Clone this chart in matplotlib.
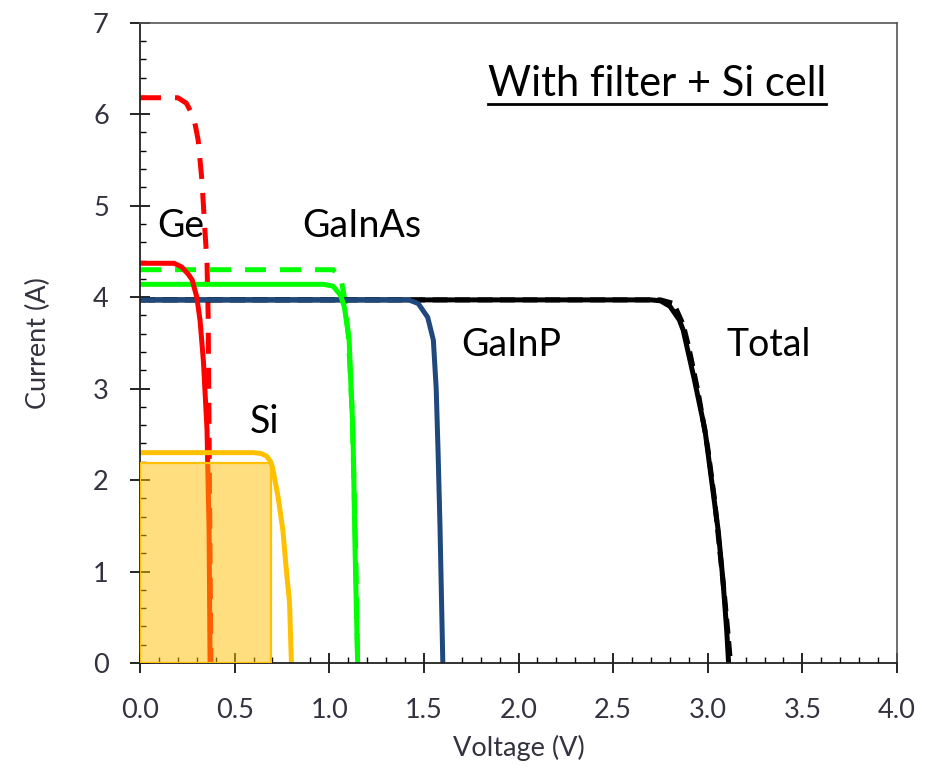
import matplotlib
matplotlib.use("Agg")
import matplotlib.pyplot as plt
from matplotlib.lines import Line2D
from matplotlib.patches import Rectangle
from matplotlib.ticker import MultipleLocator, FormatStrFormatter

plt.rcParams['font.family'] = ['Lato', 'DejaVu Sans']

# I-V curves (V in volts, I in amps)
total_v = [0, 2.70, 2.75, 2.80, 2.85, 2.87, 2.93, 2.985, 3.02, 3.055, 3.08, 3.10, 3.11]
total_i = [3.97, 3.97, 3.96, 3.90, 3.75, 3.64, 3.09, 2.55, 2.00, 1.45, 0.91, 0.36, 0.0]
total_meas_v = [0, 2.75, 2.82, 2.87, 2.90, 2.95, 3.00, 3.035, 3.065, 3.09, 3.11, 3.12]
total_meas_i = [3.97, 3.97, 3.93, 3.70, 3.45, 2.95, 2.35, 1.80, 1.20, 0.70, 0.25, 0.0]

gainp_v = [0, 1.42, 1.47, 1.52, 1.55, 1.565, 1.575, 1.585, 1.595, 1.60]
gainp_i = [3.97, 3.97, 3.93, 3.78, 3.53, 3.0, 2.3, 1.5, 0.5, 0.0]

gainas_v = [0, 0.97, 1.02, 1.06, 1.08, 1.105, 1.115, 1.125, 1.136, 1.143, 1.15]
gainas_i = [4.14, 4.14, 4.12, 4.02, 3.89, 3.53, 3.0, 2.55, 1.27, 0.6, 0.0]
gainas_dash_v = [0, 1.02, 1.06, 1.08, 1.10, 1.12, 1.14, 1.15]
gainas_dash_i = [4.30, 4.30, 4.22, 4.0, 3.6, 2.8, 1.2, 0.0]

ge_v = [0, 0.18, 0.22, 0.255, 0.275, 0.30, 0.317, 0.335, 0.354, 0.365, 0.37]
ge_i = [4.37, 4.37, 4.33, 4.25, 4.19, 4.0, 3.75, 3.3, 2.55, 1.45, 0.0]
ge_dash_v = [0, 0.20, 0.245, 0.27, 0.29, 0.307, 0.327, 0.343, 0.354, 0.36, 0.365, 0.37, 0.375]
ge_dash_i = [6.18, 6.18, 6.12, 6.02, 5.9, 5.72, 5.28, 4.73, 4.37, 3.8, 2.5, 1.2, 0.0]

si_v = [0, 0.60, 0.64, 0.67, 0.69, 0.70, 0.73, 0.755, 0.77, 0.79, 0.80]
si_i = [2.30, 2.30, 2.29, 2.26, 2.20, 2.14, 1.81, 1.45, 1.09, 0.66, 0.0]

# Si max power point
si_vmp = 0.69
si_imp = 2.19

RED = '#FF0000'
GREEN = '#00FF00'
BLUE = '#1F497D'
GOLD = '#FFC000'
TXT = '#333340'
LW = 3.6
DASH = (4.2, 2.8)

fig = plt.figure(figsize=(9.31, 7.68), dpi=100)
ax = fig.add_axes([0.1504, 0.1367, 0.8131, 0.8337])

ax.plot(ge_dash_v, ge_dash_i, color=RED, lw=LW, dashes=DASH)
ax.plot(gainas_dash_v, gainas_dash_i, color=GREEN, lw=LW, dashes=DASH)
ax.plot(total_meas_v, total_meas_i, color='black', lw=LW, dashes=(3, 1.5))
ax.plot(total_v, total_i, color='black', lw=LW)
ax.plot(gainp_v, gainp_i, color=BLUE, lw=LW)
ax.plot(gainas_v, gainas_i, color=GREEN, lw=LW)
ax.plot(ge_v, ge_i, color=RED, lw=LW)
ax.plot(si_v, si_i, color=GOLD, lw=LW)
ax.add_patch(Rectangle((0, 0), si_vmp, si_imp, facecolor=(1, 0.75, 0, 0.5),
                       edgecolor=GOLD, lw=1.6, zorder=5))

ax.set_xlim(0, 4)
ax.set_ylim(0, 7)
ax.xaxis.set_major_locator(MultipleLocator(0.5))
ax.xaxis.set_minor_locator(MultipleLocator(0.1))
ax.yaxis.set_major_locator(MultipleLocator(1))
ax.yaxis.set_minor_locator(MultipleLocator(0.2))
ax.xaxis.set_major_formatter(FormatStrFormatter('%.1f'))
ax.tick_params(which='major', direction='inout', length=15, width=1.2,
               labelsize=19.5, labelcolor=TXT)
ax.tick_params(axis='x', which='major', pad=18)
ax.tick_params(axis='y', which='major', pad=15)
ax.tick_params(which='minor', direction='in', length=4, width=1.0)
for side in ['left', 'bottom']:
    ax.spines[side].set_linewidth(1.3)
    ax.spines[side].set_color('#222222')
for side in ['top', 'right']:
    ax.spines[side].set_linewidth(1.2)
    ax.spines[side].set_color('#555555')

ax.set_xlabel('Voltage (V)', fontsize=19.5, color=TXT, labelpad=8)
ax.set_ylabel('Current (A)', fontsize=19.5, color=TXT, labelpad=30)

label_fs = 27
ax.text(0.09, 4.78, 'Ge', fontsize=label_fs, va='center')
ax.text(0.856, 4.78, 'GaInAs', fontsize=label_fs, va='center')
ax.text(1.70, 3.48, 'GaInP', fontsize=label_fs, va='center')
ax.text(3.10, 3.48, 'Total', fontsize=label_fs, va='center')
ax.text(0.58, 2.63, 'Si', fontsize=label_fs, va='center')
title = ax.text(2.73, 6.33, 'With filter + Si cell', fontsize=30, ha='center', va='center')

# underline the title
fig.canvas.draw()
bb = title.get_window_extent()
W, H = fig.bbox.width, fig.bbox.height
y_line = (bb.y0 - 1) / H
fig.add_artist(Line2D([bb.x0 / W, bb.x1 / W], [y_line, y_line], color='black', lw=2))

fig.savefig('out.png', dpi=100)
